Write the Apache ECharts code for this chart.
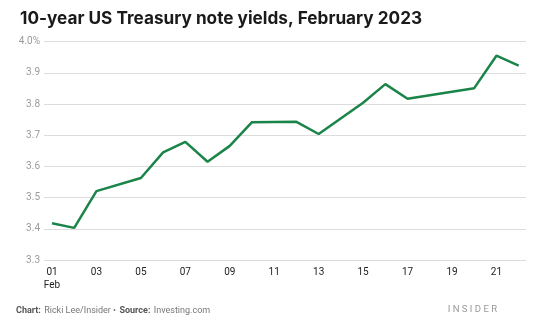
<!DOCTYPE html>
<html>
<head>
<meta charset="utf-8">
<script src="https://cdn.jsdelivr.net/npm/echarts@6/dist/echarts.min.js"></script>
<style>
html,body{margin:0;padding:0;background:#fff;}
#c{width:547px;height:331px;}
</style>
</head>
<body>
<div id="c"></div>
<script>
// Day of February 2023 (as placed on the chart) and 10-year yield (%)
const days   = [1, 2, 3, 5, 6, 7, 8, 9, 10, 12, 13, 15, 16, 17, 20, 21, 22];
const yields = [3.418, 3.403, 3.521, 3.563, 3.645, 3.679, 3.615, 3.666, 3.742, 3.743, 3.704, 3.804, 3.864, 3.817, 3.851, 3.955, 3.923];
const xTickDays = [1, 3, 5, 7, 9, 11, 13, 15, 17, 19, 21];
const yTicks = [3.3, 3.4, 3.5, 3.6, 3.7, 3.8, 3.9, 4.0];

const chart = echarts.init(document.getElementById('c'), null, {renderer: 'canvas'});
const pad = n => (n < 10 ? '0' : '') + n;
chart.setOption({
  animation: false,
  backgroundColor: '#fff',
  title: {
    text: '10-year US Treasury note yields, February 2023',
    left: 15, top: 5,
    textStyle: {fontFamily: 'Inter', fontWeight: 'bold', fontSize: 17.2, color: '#1a1a1a'}
  },
  grid: {left: 44, right: 21, top: 41.7, bottom: 71},
  xAxis: {
    type: 'value',
    min: 0.64, max: 22.33,
    axisLine: {show: false},
    axisTick: {show: false},
    splitLine: {show: false},
    axisLabel: {
      customValues: xTickDays,
      showMinLabel: true, showMaxLabel: true,
      formatter: v => v === 1 ? '01\nFeb' : pad(v),
      color: '#222', fontFamily: 'Roboto', fontSize: 10, margin: 6, lineHeight: 13, verticalAlign: 'top'
    }
  },
  yAxis: {
    type: 'value',
    min: yTicks[0], max: yTicks[yTicks.length - 1], interval: 0.1,
    axisLine: {show: false},
    axisTick: {show: false},
    splitLine: {lineStyle: {color: '#dcdcdc', width: 1}},
    axisLabel: {
      formatter: v => v.toFixed(1) + (Math.abs(v - 4) < 1e-6 ? '%' : ''),
      color: '#9a9a9a', fontFamily: 'Roboto', fontSize: 10, margin: 4
    }
  },
  series: [{
    type: 'line',
    data: days.map((d, i) => [d, yields[i]]),
    showSymbol: false,
    lineStyle: {color: '#1b8448', width: 2.5},
    itemStyle: {color: '#1b8448'}
  }],
  graphic: [
    {
      type: 'text', left: 16, top: 305,
      style: {
        text: '{b|Chart:} {n|Ricki Lee/Insider •} {b|Source:} {n|Investing.com}',
        rich: {
          b: {fontFamily: 'Roboto', fontSize: 9, fontWeight: 'bold', fill: '#555'},
          n: {fontFamily: 'Roboto', fontSize: 9, fill: '#777'}
        }
      }
    },
    {
      type: 'text', right: 50, top: 305,
      style: {text: 'I N S I D E R', fontFamily: 'Roboto', fontSize: 9.5, fill: '#999'}
    }
  ]
});
</script>
</body>
</html>
